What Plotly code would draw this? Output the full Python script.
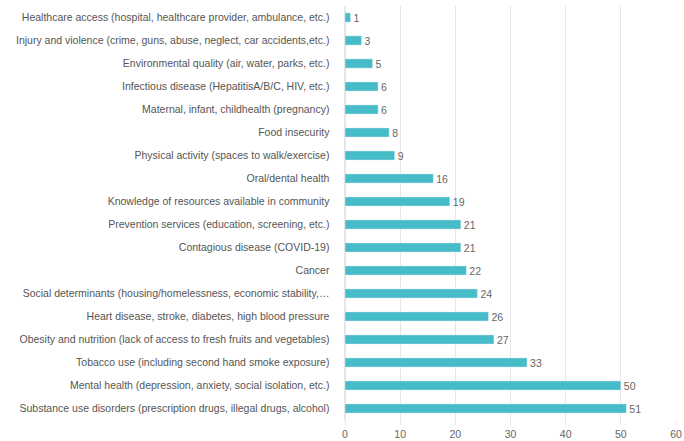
import plotly.graph_objects as go

categories = [
    "Healthcare access (hospital, healthcare provider, ambulance, etc.)",
    "Injury and violence (crime, guns, abuse, neglect, car accidents,etc.)",
    "Environmental quality (air, water, parks, etc.)",
    "Infectious disease (HepatitisA/B/C, HIV, etc.)",
    "Maternal, infant, childhealth (pregnancy)",
    "Food insecurity",
    "Physical activity (spaces to walk/exercise)",
    "Oral/dental health",
    "Knowledge of resources available in community",
    "Prevention services (education, screening, etc.)",
    "Contagious disease (COVID-19)",
    "Cancer",
    "Social determinants (housing/homelessness, economic stability,…",
    "Heart disease, stroke, diabetes, high blood pressure",
    "Obesity and nutrition (lack of access to fresh fruits and vegetables)",
    "Tobacco use (including second hand smoke exposure)",
    "Mental health (depression, anxiety, social isolation, etc.)",
    "Substance use disorders (prescription drugs, illegal drugs, alcohol)",
]
values = [1, 3, 5, 6, 6, 8, 9, 16, 19, 21, 21, 22, 24, 26, 27, 33, 50, 51]
x_ticks = [0, 10, 20, 30, 40, 50, 60]

fig = go.Figure(go.Bar(
    y=categories, x=values, orientation="h",
    marker=dict(color="#45BCC8"),
    width=0.4,
    text=[str(v) for v in values], textposition="outside",
    textfont=dict(color="#666666", size=10.5, family="Liberation Sans, Arial"),
    constraintext="none",
    cliponaxis=False,
))

fig.update_layout(
    width=684, height=441,
    margin=dict(l=345, r=8, t=6, b=21, autoexpand=False),
    plot_bgcolor="white", paper_bgcolor="white",
    showlegend=False,
    font=dict(family="Liberation Sans, Arial", size=10, color="#555555"),
    bargap=0.6,
)
fig.update_yaxes(autorange="reversed", ticksuffix="     ", tickfont=dict(size=10.5, color="#555555"),
                 showgrid=False, ticklen=0, automargin=False)
fig.update_xaxes(range=[0, 60], tickvals=x_ticks, showgrid=True, gridcolor="#e6e6e6",
                 gridwidth=1, zeroline=True, zerolinecolor="#e6e6e6", ticks="outside",
                 ticklen=4, tickcolor="#e6e6e6", tickfont=dict(size=10.5, color="#666666"),
                 automargin=False)

fig.write_html("out.html",
               config={"displayModeBar": False},
               post_script="document.body.style.margin='0';document.body.style.overflow='hidden';")
